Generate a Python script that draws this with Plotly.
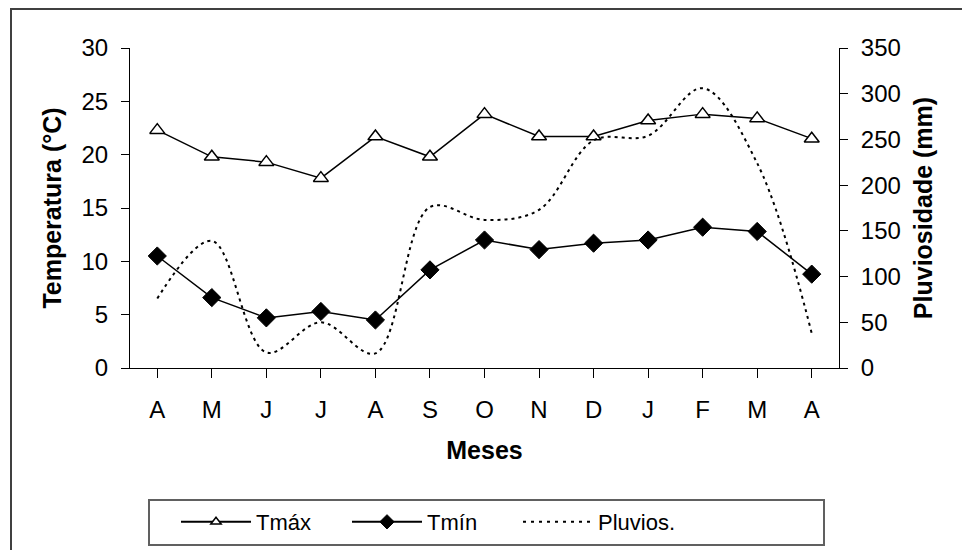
import plotly.graph_objects as go

months = ["A", "M", "J", "J", "A", "S", "O", "N", "D", "J", "F", "M", "A"]
tmax = [22.3, 19.8, 19.3, 17.8, 21.7, 19.8, 23.8, 21.7, 21.7, 23.2, 23.8, 23.4, 21.5]
tmin = [10.5, 6.6, 4.7, 5.3, 4.5, 9.2, 12.0, 11.1, 11.7, 12.0, 13.2, 12.8, 8.8]
pluvios = [76, 139, 17, 50, 16, 176, 162, 173, 249, 254, 306, 224, 38]

x = list(range(len(months)))

W, H = 962, 550
L, R, T, B = 130, 839, 48, 368
pw, ph = R - L, B - T

def px(xp):
    return (xp - L) / pw

def py(yp):
    return (B - yp) / ph

FAM = "Liberation Sans, Arial, sans-serif"
NARROW = "Liberation Sans Narrow, Arial Narrow, Liberation Sans, sans-serif"
tickfont = dict(family=FAM, size=24, color="black")
titlefont = dict(family=FAM, size=25, color="black")

fig = go.Figure()
fig.add_trace(go.Scatter(
    x=x, y=tmax, name="Tmáx", mode="lines+markers", showlegend=False,
    line=dict(color="black", width=1.5),
    marker=dict(symbol="triangle-up", size=13, color="white",
                line=dict(color="black", width=1.5)),
))
fig.add_trace(go.Scatter(
    x=x, y=tmin, name="Tmín", mode="lines+markers", showlegend=False,
    line=dict(color="black", width=1.5),
    marker=dict(symbol="diamond", size=14, color="black",
                line=dict(color="black", width=1)),
))
fig.add_trace(go.Scatter(
    x=x, y=pluvios, name="Pluvios.", mode="lines", yaxis="y2", showlegend=False,
    line=dict(color="black", width=2, dash="3px,4px", shape="spline", smoothing=1.0),
))

# legend-only entries (smaller legend symbols, as in the original)
fig.add_trace(go.Scatter(
    x=[None], y=[None], name="Tmáx", mode="lines+markers",
    line=dict(color="black", width=2),
    marker=dict(symbol="triangle-up", size=9, color="white",
                line=dict(color="black", width=1.5)),
))
fig.add_trace(go.Scatter(
    x=[None], y=[None], name="Tmín", mode="lines+markers",
    line=dict(color="black", width=2),
    marker=dict(symbol="diamond", size=11, color="black",
                line=dict(color="black", width=1)),
))
fig.add_trace(go.Scatter(
    x=[None], y=[None], name="Pluvios.", mode="lines", yaxis="y2",
    line=dict(color="black", width=2, dash="3px,5px"),
))

fig.update_layout(
    width=W, height=H,
    margin=dict(l=L, r=W - R, t=T, b=H - B, pad=0, autoexpand=False),
    paper_bgcolor="white", plot_bgcolor="white",
    font=dict(family=FAM, size=24, color="black"),
    showlegend=True,
    xaxis=dict(
        range=[-0.5, len(months) - 0.5],
        tickmode="array", tickvals=x, ticktext=months,
        showgrid=False, zeroline=False,
        showline=True, linecolor="black", linewidth=1,
        ticks="outside", ticklen=9, tickcolor="black", tickwidth=1,
        tickson="boundaries",
        ticklabelstandoff=11,
        tickfont=tickfont,
        title=dict(text="<b>Meses</b>", font=titlefont, standoff=19),
    ),
    yaxis=dict(
        range=[0, 30], tickvals=[0, 5, 10, 15, 20, 25, 30],
        showgrid=False, zeroline=False,
        showline=True, linecolor="black", linewidth=1,
        ticks="outside", ticklen=8, tickcolor="black", tickwidth=1,
        ticklabelstandoff=8,
        tickfont=tickfont,
        title=dict(text="<b>Temperatura (°C)</b>", font=titlefont, standoff=12),
    ),
    yaxis2=dict(
        range=[0, 350], tickvals=[0, 50, 100, 150, 200, 250, 300, 350],
        overlaying="y", side="right",
        showgrid=False, zeroline=False,
        showline=True, linecolor="black", linewidth=1,
        ticks="outside", ticklen=8, tickcolor="black", tickwidth=1,
        ticklabelstandoff=8,
        tickfont=tickfont,
        title=dict(text="<b>Pluviosidade (mm)</b>", font=titlefont, standoff=14),
    ),
    legend=dict(
        orientation="h",
        x=px(176), y=py(522), xanchor="left", yanchor="middle",
        entrywidth=86, entrywidthmode="pixels",
        itemwidth=70,
        bgcolor="rgba(0,0,0,0)", borderwidth=0,
        font=dict(family=NARROW, size=22, color="black"),
    ),
    shapes=[
        dict(type="rect", xref="paper", yref="paper",
             x0=px(11), x1=px(1010), y0=py(600), y1=py(9),
             line=dict(color="#404040", width=2), fillcolor="rgba(0,0,0,0)", layer="below"),
        dict(type="rect", xref="paper", yref="paper",
             x0=px(149), x1=px(824), y0=py(545), y1=py(500),
             line=dict(color="#606060", width=2), fillcolor="rgba(0,0,0,0)", layer="below"),
    ],
)

fig.write_html("out.html")
